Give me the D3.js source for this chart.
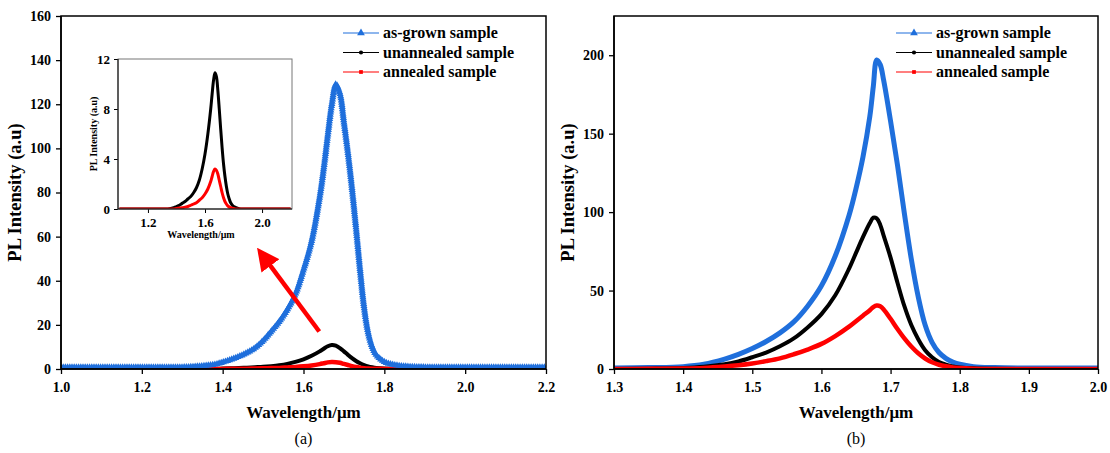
<!DOCTYPE html>
<html>
<head>
<meta charset="utf-8">
<script src="https://cdn.jsdelivr.net/npm/d3@7"></script>
<style>
  body { margin: 0; background: #fff; }
  text { font-family: "Liberation Serif", "Times New Roman", serif; }
</style>
</head>
<body>
<svg id="chart" width="1110" height="453"></svg>
<script>
// panel (a) data
var wlA = [1.00, 1.10, 1.20, 1.30, 1.34, 1.38, 1.40, 1.42, 1.44, 1.46, 1.48, 1.50, 1.52, 1.54, 1.56, 1.58, 1.60, 1.62, 1.64, 1.65,
           1.66, 1.67, 1.68, 1.69, 1.70, 1.71, 1.72, 1.73, 1.74, 1.75, 1.76, 1.77, 1.78, 1.80, 1.82, 1.85, 1.90, 2.00, 2.10, 2.20];
var grownA = [0.7, 0.7, 0.7, 0.8, 1.2, 2.0, 3.0, 4.2, 5.6, 7.3, 9.5, 12.8, 17, 21.5, 27, 34, 45, 58, 78, 91,
              106, 120, 129, 125, 112, 98, 82, 64, 45, 28, 16.5, 10, 6.3, 3.2, 2, 1.2, 0.8, 0.7, 0.7, 0.7];
var unannA = [0, 0, 0, 0, 0, 0.1, 0.2, 0.3, 0.45, 0.6, 0.8, 1.0, 1.3, 1.7, 2.3, 3.2, 4.4, 6.0, 8.0, 9.2,
              10.3, 10.9, 10.6, 9.5, 8.0, 6.4, 4.9, 3.6, 2.6, 1.8, 1.2, 0.8, 0.5, 0.2, 0.1, 0, 0, 0, 0, 0];
var annA = [0, 0, 0, 0, 0, 0, 0.05, 0.08, 0.1, 0.15, 0.2, 0.3, 0.4, 0.5, 0.7, 0.9, 1.2, 1.6, 2.2, 2.6,
            3.0, 3.2, 3.1, 2.8, 2.3, 1.8, 1.3, 0.9, 0.6, 0.4, 0.25, 0.15, 0.1, 0.05, 0, 0, 0, 0, 0, 0];

// panel (b) data
var wlB = [1.30, 1.35, 1.40, 1.43, 1.46, 1.48, 1.50, 1.52, 1.54, 1.56, 1.58, 1.60, 1.62, 1.64, 1.65, 1.66, 1.67, 1.675, 1.68, 1.685,
           1.69, 1.70, 1.71, 1.72, 1.73, 1.74, 1.75, 1.76, 1.77, 1.78, 1.79, 1.80, 1.82, 1.85, 1.90, 2.00];
var grownB = [0.6, 0.9, 1.5, 3.0, 6.3, 9.3, 13, 17.5, 23, 30, 40, 53, 72, 98, 115, 135, 161, 180, 197, 194,
              184, 158, 130, 99, 70, 46, 28, 17, 10.5, 6.8, 4.5, 3.0, 1.5, 0.9, 0.6, 0.6];
var unannB = [0, 0.2, 0.6, 1.4, 3, 4.8, 7.5, 10.5, 14.5, 19.5, 26.5, 35, 47, 64, 74, 84, 93, 96.5, 96, 92,
              85, 71, 55, 40, 28, 19, 12, 7.5, 4.5, 2.8, 1.6, 1.0, 0.4, 0.1, 0, 0];
var annB = [0, 0.1, 0.3, 0.7, 1.6, 2.4, 3.5, 5, 6.8, 9.4, 12.4, 16, 21, 27, 30.5, 34, 37.5, 39.5, 40.5, 40,
            38, 32, 25.5, 19.5, 14.3, 10, 6.7, 4.3, 2.7, 1.7, 1.0, 0.6, 0.2, 0, 0, 0];

var seriesNames = ["as-grown sample", "unannealed sample", "annealed sample"];
var seriesColors = ["#1f6fdc", "#000000", "#ff0000"];

var xTicksA = [1.0, 1.2, 1.4, 1.6, 1.8, 2.0, 2.2];
var yTicksA = [0, 20, 40, 60, 80, 100, 120, 140, 160];
var xTicksB = [1.3, 1.4, 1.5, 1.6, 1.7, 1.8, 1.9, 2.0];
var yTicksB = [0, 50, 100, 150, 200];
var xTicksInset = [1.2, 1.6, 2.0];
var yTicksInset = [0, 4, 8, 12];

var svg = d3.select("#chart");
var clipId = 0;

function zip(xs, ys) {
  return xs.map(function (x, i) { return [x, ys[i]]; });
}

function minorOf(major, step) {
  var out = [];
  for (var i = 0; i < major.length - 1; i++) out.push(+(major[i] + step).toFixed(3));
  return out;
}

function drawAxes(g, x, y, box, o) {
  var fs = o.fontSize;
  var xa = g.append("g").attr("transform", "translate(0," + box.y1 + ")");
  xa.call(d3.axisBottom(x).tickValues(o.xMinor).tickSize(o.minor).tickFormat(""));
  xa.call(d3.axisBottom(x).tickValues(o.xTicks).tickSize(o.major).tickPadding(o.xPad).tickFormat(d3.format(".1f")));
  var ya = g.append("g").attr("transform", "translate(" + box.x0 + ",0)");
  ya.call(d3.axisLeft(y).tickValues(o.yMinor).tickSize(o.minor).tickFormat(""));
  ya.call(d3.axisLeft(y).tickValues(o.yTicks).tickSize(o.major).tickPadding(o.yPad).tickFormat(d3.format("d")));
  [xa, ya].forEach(function (a) {
    a.selectAll(".domain").remove();
    a.selectAll("line").attr("stroke", "#000").attr("stroke-width", o.tickW);
    a.selectAll("text").attr("font-size", fs).attr("font-weight", "bold")
      .attr("fill", "#000").style("font-family", "Liberation Serif");
  });
  g.append("rect").attr("x", box.x0).attr("y", box.y0)
    .attr("width", box.x1 - box.x0).attr("height", box.y1 - box.y0)
    .attr("fill", "none").attr("stroke", o.frame || "#000").attr("stroke-width", o.frameW);
  g.append("line").attr("x1", box.x0).attr("x2", box.x0).attr("y1", box.y0).attr("y2", box.y1)
    .attr("stroke", "#000").attr("stroke-width", o.frameW);
  g.append("line").attr("x1", box.x0).attr("x2", box.x1).attr("y1", box.y1).attr("y2", box.y1)
    .attr("stroke", "#000").attr("stroke-width", o.frameW);
}

function addClip(box) {
  clipId++;
  svg.append("clipPath").attr("id", "clip" + clipId).append("rect")
    .attr("x", box.x0).attr("y", box.y0).attr("width", box.x1 - box.x0).attr("height", box.y1 - box.y0);
  return "url(#clip" + clipId + ")";
}

function drawCurve(g, x, y, pts, color, width, clip) {
  var line = d3.line().x(function (d) { return x(d[0]); }).y(function (d) { return y(Math.max(0, d[1])); })
    .curve(d3.curveCatmullRom.alpha(0.5));
  return g.append("path").datum(pts).attr("d", line).attr("fill", "none")
    .attr("stroke", color).attr("stroke-width", width).attr("stroke-linejoin", "round")
    .attr("clip-path", clip);
}

function triangleMarkers(g, path, color, clip) {
  var node = path.node();
  var L = node.getTotalLength();
  var tri = d3.symbol().type(d3.symbolTriangle).size(22);
  var mg = g.append("g").attr("clip-path", clip);
  for (var l = 0; l <= L; l += 2.2) {
    var p = node.getPointAtLength(l);
    mg.append("path").attr("d", tri).attr("fill", color)
      .attr("transform", "translate(" + p.x + "," + p.y + ")");
  }
}

function drawLegend(g, lx, ly) {
  var rowH = 19.5;
  seriesNames.forEach(function (name, i) {
    var yy = ly + i * rowH;
    g.append("line").attr("x1", lx).attr("x2", lx + 36).attr("y1", yy).attr("y2", yy)
      .attr("stroke", seriesColors[i]).attr("stroke-width", 1.2);
    var sym = i === 0 ? d3.symbolTriangle : (i === 1 ? d3.symbolCircle : d3.symbolSquare);
    g.append("path").attr("d", d3.symbol().type(sym).size(i === 0 ? 26 : 14))
      .attr("fill", seriesColors[i]).attr("transform", "translate(" + (lx + 18) + "," + yy + ")");
    g.append("text").attr("x", lx + 40).attr("y", yy + 5).text(name)
      .attr("font-size", 16).attr("font-weight", "bold").attr("fill", "#000");
  });
}

function panel(box, xDom, yDom, xTicks, xStep, yTicks, yStep, data, title) {
  var g = svg.append("g");
  var x = d3.scaleLinear().domain(xDom).range([box.x0, box.x1]);
  var y = d3.scaleLinear().domain(yDom).range([box.y1, box.y0]);
  var clip = addClip(box);
  var blue = drawCurve(g, x, y, data[0], seriesColors[0], box.blueW, clip);
  drawCurve(g, x, y, data[1], seriesColors[1], 4, clip);
  drawCurve(g, x, y, data[2], seriesColors[2], 4.5, clip);
  if (box.markers) triangleMarkers(g, blue, seriesColors[0], clip);
  drawAxes(g, x, y, box, {
    xTicks: xTicks, yTicks: yTicks, xMinor: minorOf(xTicks, xStep), yMinor: minorOf(yTicks, yStep),
    major: 5, minor: 3, xPad: 8, yPad: 5, fontSize: 14, tickW: 1.3, frameW: 1.5
  });
  var cx = (box.x0 + box.x1) / 2;
  g.append("text").attr("x", cx).attr("y", 418).attr("text-anchor", "middle")
    .attr("font-size", 17).attr("font-weight", "bold").text("Wavelength/\u03bcm");
  g.append("text").attr("x", cx).attr("y", 444).attr("text-anchor", "middle")
    .attr("font-size", 16).text(title);
  g.append("text").attr("transform", "translate(" + (box.x0 - 40) + "," + ((box.y0 + box.y1) / 2) + ") rotate(-90)")
    .attr("text-anchor", "middle").attr("font-size", 18.5).attr("font-weight", "bold")
    .text("PL Intensity (a.u)");
  return { g: g, x: x, y: y };
}

// panel (a)
var boxA = { x0: 61, x1: 546, y0: 16, y1: 369, blueW: 3.5, markers: true };
var pa = panel(boxA, [1.0, 2.2], [0, 160], xTicksA, 0.1, yTicksA, 10,
  [zip(wlA, grownA), zip(wlA, unannA), zip(wlA, annA)], "(a)");
drawLegend(pa.g, 343, 33);

// arrow pointing to the inset
svg.append("defs").append("marker").attr("id", "arrowHead")
  .attr("viewBox", "0 0 10 10").attr("refX", 4).attr("refY", 5)
  .attr("markerWidth", 5).attr("markerHeight", 5).attr("orient", "auto")
  .append("path").attr("d", "M0,0 L10,5 L0,10 z").attr("fill", "#ff0000");
var arrowFrom = [1.639, 17], arrowTo = [1.505, 50];
pa.g.append("line")
  .attr("x1", pa.x(arrowFrom[0])).attr("y1", pa.y(arrowFrom[1]))
  .attr("x2", pa.x(arrowTo[0])).attr("y2", pa.y(arrowTo[1]))
  .attr("stroke", "#ff0000").attr("stroke-width", 4.5).attr("marker-end", "url(#arrowHead)");

// inset
var boxI = { x0: 118, x1: 292, y0: 59, y1: 209 };
var gi = svg.append("g");
gi.append("rect").attr("x", boxI.x0).attr("y", boxI.y0).attr("width", boxI.x1 - boxI.x0)
  .attr("height", boxI.y1 - boxI.y0).attr("fill", "#fff");
var xi = d3.scaleLinear().domain([0.99, 2.21]).range([boxI.x0, boxI.x1]);
var yi = d3.scaleLinear().domain([0, 12]).range([boxI.y1, boxI.y0]);
var clipI = addClip(boxI);
drawCurve(gi, xi, yi, zip(wlA, unannA), "#000", 3, clipI);
drawCurve(gi, xi, yi, zip(wlA, annA), "#ff0000", 3, clipI);
drawAxes(gi, xi, yi, boxI, {
  xTicks: xTicksInset, yTicks: yTicksInset, xMinor: [1.0, 1.4, 1.8, 2.2].concat([1.1, 1.3, 1.5, 1.7, 1.9, 2.1]),
  yMinor: [2, 6, 10], major: 4, minor: 2.5, xPad: 5, yPad: 4, fontSize: 13, tickW: 1, frameW: 1, frame: "#777"
});
gi.append("text").attr("x", (boxI.x0 + boxI.x1) / 2 - 4).attr("y", 238).attr("text-anchor", "middle")
  .attr("font-size", 10).attr("font-weight", "bold").text("Wavelength/\u03bcm");
gi.append("text").attr("transform", "translate(" + (boxI.x0 - 21) + "," + ((boxI.y0 + boxI.y1) / 2) + ") rotate(-90)")
  .attr("text-anchor", "middle").attr("font-size", 10).attr("font-weight", "bold").text("PL Intensity (a.u)");

// panel (b)
var boxB = { x0: 614, x1: 1098, y0: 16, y1: 369, blueW: 5, markers: false };
var pb = panel(boxB, [1.3, 2.0], [0, 225], xTicksB, 0.05, yTicksB, 25,
  [zip(wlB, grownB), zip(wlB, unannB), zip(wlB, annB)], "(b)");
drawLegend(pb.g, 896, 33);
</script>
</body>
</html>
